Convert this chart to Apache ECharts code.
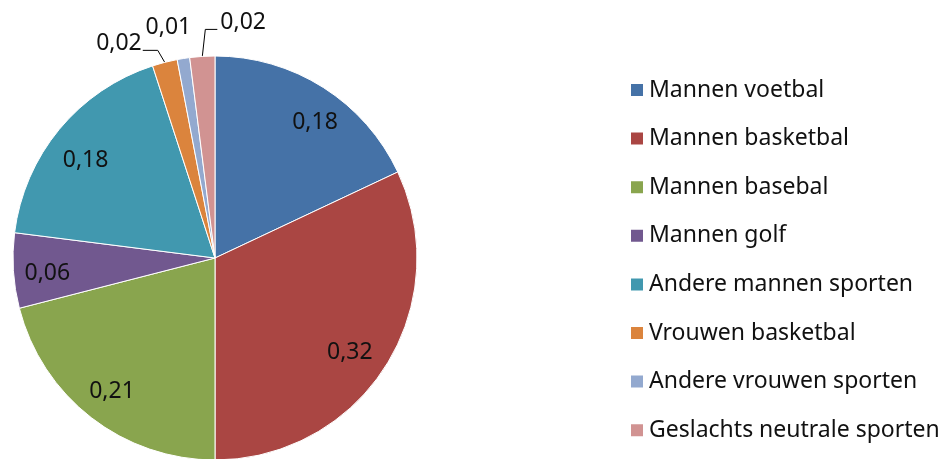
<!DOCTYPE html>
<html>
<head>
<meta charset="utf-8">
<script src="https://cdn.jsdelivr.net/npm/echarts@6/dist/echarts.min.js"></script>
<style>
  html, body { margin: 0; padding: 0; background: #fff; }
  #chart { width: 941px; height: 459px; }
</style>
</head>
<body>
<div id="chart"></div>
<script>
var categories = ['Mannen voetbal', 'Mannen basketbal', 'Mannen basebal', 'Mannen golf',
    'Andere mannen sporten', 'Vrouwen basketbal', 'Andere vrouwen sporten', 'Geslachts neutrale sporten'];
var values = [0.18, 0.32, 0.21, 0.06, 0.18, 0.02, 0.01, 0.02];
var colors = ['#4572A7', '#AA4643', '#89A54E', '#71588F', '#4198AF', '#DB843D', '#93A9CF', '#D19392'];

function AddPieChart(id) {
    var echart = echarts.init(document.getElementById(id));
    var font = 'Noto Sans';
    var cx = 215, cy = 258, R = 202;
    var fmt = function (p) { return String(p.value).replace('.', ','); };

    var total = values.reduce((a, b) => a + b, 0);
    // point on the rim at the middle of slice i
    function rim(i) {
        var before = 0;
        for (var k = 0; k < i; k++) before += values[k];
        var a = (before + values[i] / 2) / total * 2 * Math.PI;
        return [cx + R * Math.sin(a), cy - R * Math.cos(a)];
    }
    // offsets for the small labels (text pos, elbow, line end), like excel did it
    var smallLabels = {
        5: { text: [-23, -19], align: 'right', line: [[-7, -12], [-22, -12]] },
        6: { text: [-15, -31], align: 'center', line: null },
        7: { text: [18, -34], align: 'left', line: [[3, -27], [15, -27]] }
    };
    // excel "best fit" nudges for the big labels
    var bigNudge = [[10, 6], [-7, 4], [0, 1], [0, 5], [0, 10]];

    var slices = values.map((v, i) => {
        var small = v < 0.05;
        return {
            name: categories[i],
            value: v,
            itemStyle: { color: colors[i] },
            label: { show: small },
            labelLine: { show: small && i != 6 }
        };
    });
    // invisible twin, only used to put the big labels further out
    var labels = values.map((v, i) => ({
        name: categories[i],
        value: v,
        itemStyle: { color: 'rgba(0,0,0,0)' },
        label: { show: v >= 0.05 }
    }));

    var option = {
        animation: false,
        legend: {
            data: categories,
            orient: 'vertical',
            left: 629,
            top: 78,
            padding: 0,
            itemWidth: 14,
            itemHeight: 14,
            itemGap: 24.6,
            icon: 'rect',
            textStyle: { fontFamily: font, fontSize: 23, color: '#111', lineHeight: 24 }
        },
        series: [
            {
                name: 'sporten',
                type: 'pie',
                center: [cx, cy],
                radius: R,
                startAngle: 90,
                avoidLabelOverlap: false,
                itemStyle: { borderColor: '#fff', borderWidth: 1 },
                label: {
                    position: 'outside',
                    formatter: fmt,
                    fontFamily: font,
                    fontSize: 23,
                    color: '#111'
                },
                labelLine: { length: 10, length2: 8, lineStyle: { color: '#000', width: 1 } },
                labelLayout: function (params) {
                    var s = smallLabels[params.dataIndex];
                    if (!s) return { hideOverlap: false };
                    var p = rim(params.dataIndex);
                    var out = {
                        hideOverlap: false,
                        x: p[0] + s.text[0],
                        y: p[1] + s.text[1],
                        align: s.align,
                        verticalAlign: 'middle'
                    };
                    if (s.line) {
                        out.labelLinePoints = [p,
                            [p[0] + s.line[0][0], p[1] + s.line[0][1]],
                            [p[0] + s.line[1][0], p[1] + s.line[1][1]]];
                    }
                    return out;
                },
                data: slices
            },
            {
                name: 'labels',
                type: 'pie',
                center: [cx, cy],
                radius: 330,
                startAngle: 90,
                silent: true,
                avoidLabelOverlap: false,
                label: {
                    position: 'inside',
                    formatter: fmt,
                    fontFamily: font,
                    fontSize: 23,
                    color: '#111'
                },
                labelLine: { show: false },
                labelLayout: function (params) {
                    var n = bigNudge[params.dataIndex] || [0, 0];
                    return { dx: n[0], dy: n[1] };
                },
                data: labels
            }
        ]
    };
    echart.setOption(option);
}

AddPieChart('chart');
</script>
</body>
</html>
